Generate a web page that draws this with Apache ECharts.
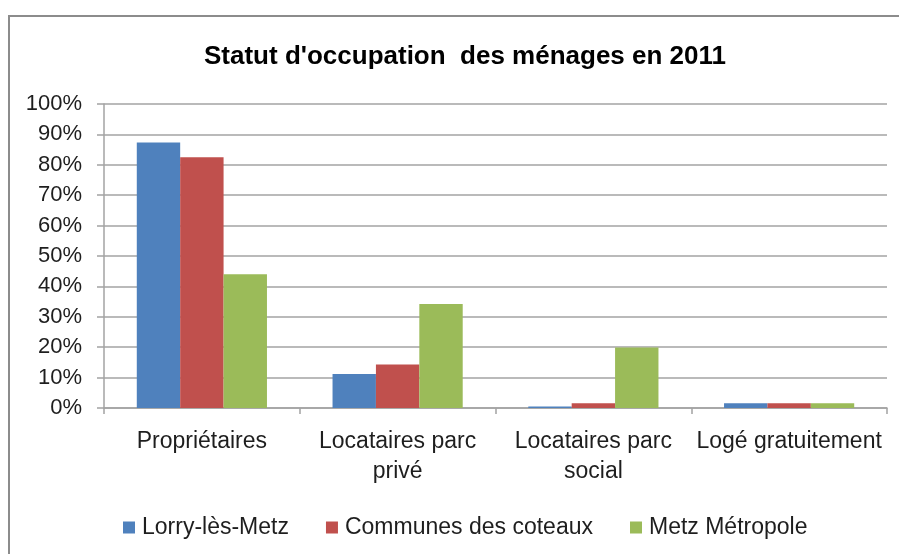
<!DOCTYPE html>
<html>
<head>
<meta charset="utf-8">
<title>Statut d'occupation des ménages en 2011</title>
<script src="https://cdn.jsdelivr.net/npm/echarts@6/dist/echarts.min.js"></script>
<style>
  html, body { margin: 0; padding: 0; background: #ffffff; }
  #chart { width: 899px; height: 554px; }
</style>
</head>
<body>
<div id="chart"></div>
<script>
// Household occupancy status, 2011 (share of households, %)
const categories = ['Propriétaires', 'Locataires parc\nprivé', 'Locataires parc\nsocial', 'Logé gratuitement'];
const seriesNames = ['Lorry-lès-Metz', 'Communes des coteaux', 'Metz Métropole'];
const lorryValues = [87.3, 11.2, 0.5, 1.6];
const coteauxValues = [82.5, 14.3, 1.6, 1.6];
const metzValues = [44.0, 34.2, 19.9, 1.6];
const seriesColors = ['#4F81BD', '#C0504D', '#9BBB59'];
const titleText = "Statut d'occupation  des ménages en 2011";

const FONT = "'Liberation Sans', Arial, sans-serif";
const TEXT = '#1e1e1e';
const GRID_LINE = '#a3a3a3';

const chart = echarts.init(document.getElementById('chart'), null, { renderer: 'canvas' });

const seriesData = [lorryValues, coteauxValues, metzValues];

chart.setOption({
  backgroundColor: '#ffffff',
  animation: false,
  color: seriesColors,
  graphic: [{
    type: 'rect',
    shape: { x: 9, y: 16, width: 1000, height: 1000 },
    style: { fill: 'none', stroke: '#8c8c8c', lineWidth: 2 },
    silent: true,
    z: -1
  }],
  title: {
    text: titleText,
    left: 460,
    top: 39,
    textAlign: 'center',
    textStyle: { fontFamily: FONT, fontSize: 26, fontWeight: 'bold', color: '#000000' }
  },
  legend: {
    data: seriesNames,
    left: 118,
    top: 511,
    icon: 'rect',
    itemWidth: 12,
    itemHeight: 12,
    itemGap: 37,
    textStyle: { fontFamily: FONT, fontSize: 23, color: TEXT, padding: [0, 0, 0, 2] }
  },
  grid: { left: 104, right: 12, top: 104, bottom: 146, containLabel: false },
  xAxis: {
    type: 'category',
    data: categories,
    axisLine: { show: true, lineStyle: { color: GRID_LINE, width: 1.5 } },
    axisTick: { show: true, length: 6, lineStyle: { color: GRID_LINE, width: 1.5 } },
    axisLabel: {
      interval: 0,
      margin: 19,
      fontFamily: FONT,
      fontSize: 23,
      lineHeight: 30,
      color: TEXT
    }
  },
  yAxis: {
    type: 'value',
    min: 0,
    max: 100,
    interval: 10,
    axisLine: { show: true, lineStyle: { color: GRID_LINE, width: 1.5 } },
    axisTick: { show: true, length: 7, lineStyle: { color: GRID_LINE, width: 1.5 } },
    splitLine: { show: true, lineStyle: { color: GRID_LINE, width: 1.5 } },
    axisLabel: {
      formatter: '{value}%',
      margin: 22,
      fontFamily: FONT,
      fontSize: 22,
      color: TEXT
    }
  },
  series: seriesNames.map((name, i) => ({
    name: name,
    type: 'bar',
    data: seriesData[i],
    barGap: '0%',
    barCategoryGap: '33.5%',
    itemStyle: { color: seriesColors[i] }
  }))
});
</script>
</body>
</html>
